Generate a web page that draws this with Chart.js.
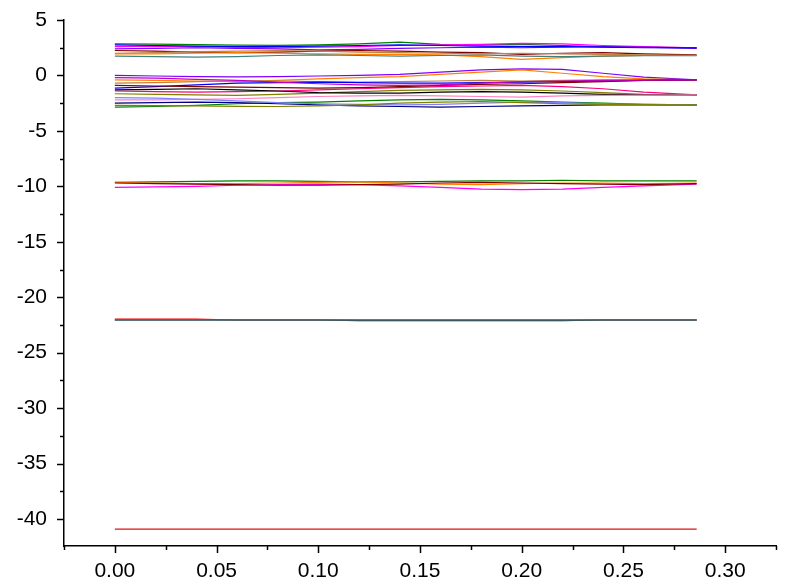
<!DOCTYPE html>
<html>
<head>
<meta charset="utf-8">
<script src="https://cdn.jsdelivr.net/npm/chart.js@4/dist/chart.umd.min.js"></script>
<style>
  html, body { margin: 0; padding: 0; background: #fff; }
  canvas { display: block; }
</style>
</head>
<body>
<canvas id="bandChart" width="800" height="584"></canvas>
<script>
// k-path positions
const kx = [0, 0.02, 0.04, 0.06, 0.08, 0.10, 0.12, 0.14, 0.16, 0.18, 0.20, 0.22, 0.24, 0.26, 0.286];

// upper group (~2..3)
const t1 = [2.85, 2.82, 2.78, 2.74, 2.72, 2.75, 2.85, 3.0, 2.8, 2.75, 2.8, 2.7, 2.6, 2.55, 2.5];
const t2 = [2.6, 2.65, 2.6, 2.55, 2.5, 2.55, 2.6, 2.7, 2.75, 2.8, 2.9, 2.85, 2.7, 2.6, 2.5];
const t3 = [2.4, 2.45, 2.5, 2.45, 2.4, 2.3, 2.35, 2.45, 2.5, 2.55, 2.5, 2.55, 2.6, 2.55, 2.45];
const t4 = [2.25, 2.2, 2.1, 2.05, 2.1, 2.2, 2.25, 2.2, 2.1, 2.05, 1.9, 2.0, 2.05, 1.95, 1.85];
const t5 = [1.95, 1.95, 2.0, 2.05, 2.0, 1.95, 1.9, 1.9, 1.85, 1.7, 1.45, 1.6, 1.75, 1.8, 1.8];
const t6 = [1.75, 1.7, 1.65, 1.7, 1.8, 1.85, 1.8, 1.75, 1.8, 1.85, 1.75, 1.7, 1.75, 1.78, 1.78];
const t7 = [2.75, 2.7, 2.65, 2.6, 2.6, 2.65, 2.7, 2.75, 2.7, 2.65, 2.6, 2.62, 2.55, 2.5, 2.48];
const t8 = [2.0, 2.05, 2.15, 2.2, 2.25, 2.2, 2.1, 2.05, 2.0, 1.95, 2.0, 1.95, 1.9, 1.85, 1.82];

// middle group (0..-3)
const m1 = [0, -0.05, -0.1, -0.12, -0.1, -0.05, 0, 0.1, 0.3, 0.5, 0.6, 0.55, 0.2, -0.15, -0.4];
const m2 = [-0.4, -0.45, -0.5, -0.55, -0.45, -0.3, -0.2, -0.1, 0.1, 0.3, 0.5, 0.2, -0.1, -0.3, -0.4];
const m3 = [-0.7, -0.65, -0.55, -0.5, -0.5, -0.55, -0.6, -0.55, -0.5, -0.45, -0.5, -0.45, -0.4, -0.4, -0.4];
const m4 = [-1.15, -1.0, -0.85, -0.7, -0.65, -0.6, -0.65, -0.7, -0.7, -0.65, -0.6, -0.55, -0.5, -0.45, -0.4];
const m5 = [-1.4, -1.45, -1.5, -1.45, -1.4, -1.3, -1.2, -1.1, -1.0, -0.95, -0.9, -1.0, -1.2, -1.5, -1.75];
const m6 = [-1.65, -1.7, -1.75, -1.8, -1.7, -1.6, -1.45, -1.35, -1.3, -1.25, -1.3, -1.4, -1.55, -1.7, -1.75];
const m7 = [-1.3, -1.25, -1.2, -1.3, -1.4, -1.55, -1.6, -1.6, -1.5, -1.45, -1.5, -1.6, -1.7, -1.75, -1.75];
const m8 = [-2.2, -2.2, -2.15, -2.1, -2.0, -1.9, -1.85, -1.8, -1.85, -1.9, -1.95, -1.85, -1.8, -1.78, -1.75];
const m9 = [-2.85, -2.8, -2.7, -2.55, -2.45, -2.4, -2.3, -2.2, -2.15, -2.2, -2.3, -2.4, -2.5, -2.6, -2.65];
const m10 = [-2.5, -2.45, -2.4, -2.45, -2.55, -2.65, -2.75, -2.8, -2.85, -2.8, -2.75, -2.7, -2.65, -2.65, -2.65];
const m11 = [-2.0, -2.05, -2.15, -2.3, -2.45, -2.55, -2.6, -2.65, -2.6, -2.5, -2.4, -2.45, -2.55, -2.6, -2.65];
const m12 = [-0.9, -0.95, -1.0, -1.05, -1.1, -1.15, -1.1, -1.0, -0.9, -0.8, -0.75, -0.65, -0.55, -0.45, -0.4];
const m13 = [-0.2, -0.25, -0.35, -0.45, -0.6, -0.75, -0.85, -0.9, -0.85, -0.7, -0.55, -0.5, -0.45, -0.42, -0.4];
const m14 = [-2.7, -2.72, -2.75, -2.78, -2.8, -2.75, -2.65, -2.5, -2.4, -2.35, -2.45, -2.55, -2.6, -2.63, -2.65];

// group near -10
const d1 = [-9.65, -9.6, -9.55, -9.5, -9.5, -9.55, -9.6, -9.6, -9.55, -9.5, -9.5, -9.45, -9.5, -9.5, -9.5];
const d2 = [-9.65, -9.7, -9.75, -9.75, -9.7, -9.65, -9.6, -9.7, -9.8, -9.85, -9.75, -9.7, -9.7, -9.75, -9.7];
const d3 = [-10.1, -10.05, -10.0, -9.9, -9.85, -9.8, -9.85, -9.95, -10.1, -10.25, -10.3, -10.25, -10.1, -9.95, -9.8];
const d4 = [-9.7, -9.75, -9.8, -9.85, -9.9, -9.9, -9.85, -9.8, -9.7, -9.65, -9.7, -9.75, -9.8, -9.85, -9.75];

// group near -22
const g1 = [-22.05, -22.05, -22.05, -22.05, -22.05, -22.05, -22.05, -22.05, -22.05, -22.05, -22.05, -22.05, -22.05, -22.05, -22.05];
const g2 = [-21.98, -21.98, -21.98, -22.05, -22.05, -22.05, -22.05, -22.05, -22.05, -22.05, -22.05, -22.05, -22.05, -22.05, -22.05];
const g3 = [-22.05, -22.05, -22.05, -22.05, -22.05, -22.05, -22.1, -22.1, -22.1, -22.1, -22.1, -22.1, -22.05, -22.05, -22.05];

// deep level
const s1 = [-40.9, -40.9, -40.9, -40.9, -40.9, -40.9, -40.9, -40.9, -40.9, -40.9, -40.9, -40.9, -40.9, -40.9, -40.9];

// listed bottom-to-top in drawing order
const bands = [
  [t1, '#008000'], [t2, '#FF00FF'], [t3, '#8000FF'], [t4, '#800000'], [t5, '#FF8000'], [t6, '#408080'],
  [t7, '#0000FF'], [t8, '#C08040'],
  [m1, '#8000FF'], [m2, '#FF8000'], [m3, '#C08040'], [m4, '#0000FF'], [m5, '#FF0080'], [m6, '#808000'],
  [m7, '#000000'], [m8, '#FF80C0'], [m9, '#008000'], [m10, '#000080'], [m11, '#8080FF'], [m12, '#800000'],
  [m13, '#C000C0'], [m14, '#808000'],
  [d1, '#008000'], [d2, '#FF8000'], [d3, '#FF00FF'], [d4, '#800000'],
  [g2, '#FF0000'], [g3, '#101010'], [g1, '#4A7078'],
  [s1, '#E01010']
];

// Chart.js paints dataset 0 on top, so reverse
const datasets = bands.map(([ys, color]) => ({
  data: ys.map((y, j) => ({ x: kx[j], y: y })),
  borderColor: color,
  borderWidth: ys === g1 ? 1.6 : 1.2,
  pointRadius: 0,
  tension: 0,
  fill: false
})).reverse();

// draws major/minor tick marks outward
const tickMarks = {
  id: 'tickMarks',
  afterDraw(chart) {
    const ctx = chart.ctx;
    const xs = chart.scales.x, ys = chart.scales.y;
    ctx.save();
    ctx.strokeStyle = '#000';
    ctx.lineWidth = 1.5;
    ys.ticks.forEach(t => {
      const py = Math.round(ys.getPixelForValue(t.value)) + 0.5;
      const len = Math.abs(t.value % 5) < 1e-6 ? 7 : 4;
      ctx.beginPath();
      ctx.moveTo(ys.right, py);
      ctx.lineTo(ys.right - len, py);
      ctx.stroke();
    });
    xs.ticks.forEach(t => {
      const px = Math.round(xs.getPixelForValue(t.value)) + 0.5;
      const major = Math.abs(Math.round(t.value * 1000) % 50) === 0;
      ctx.beginPath();
      ctx.moveTo(px, xs.top);
      ctx.lineTo(px, xs.top + (major ? 7 : 4));
      ctx.stroke();
    });
    ctx.restore();
  }
};

const ctx = document.getElementById('bandChart').getContext('2d');

new Chart(ctx, {
  type: 'line',
  data: { datasets: datasets },
  plugins: [tickMarks],
  options: {
    responsive: false,
    animation: false,
    layout: { padding: { left: 0, top: 20, right: 24, bottom: 0 } },
    plugins: { legend: { display: false }, tooltip: { enabled: false } },
    scales: {
      x: {
        type: 'linear',
        min: -0.025,
        max: 0.325,
        afterFit: s => { s.height = 38; s.paddingLeft = 0; s.paddingRight = 0; },
        border: { display: true, color: '#000', width: 1.5 },
        grid: { display: false },
        ticks: {
          stepSize: 0.025,
          autoSkip: false,
          maxRotation: 0,
          padding: 5,
          color: '#000',
          font: { family: 'Liberation Sans', size: 21 },
          callback: v => (Math.round(v * 1000) % 50 === 0 && v >= -1e-9) ? v.toFixed(2) : ''
        }
      },
      y: {
        min: -42.43,
        max: 5,
        afterFit: s => { s.width = 64; s.paddingTop = 0; s.paddingBottom = 0; },
        border: { display: true, color: '#000', width: 1.5 },
        grid: { display: false },
        ticks: {
          stepSize: 2.5,
          includeBounds: false,
          autoSkip: false,
          padding: 9,
          color: '#000',
          font: { family: 'Liberation Sans', size: 21 },
          callback: v => (Math.abs(v % 5) < 1e-6) ? String(v) : ''
        }
      }
    }
  }
});
</script>
</body>
</html>
